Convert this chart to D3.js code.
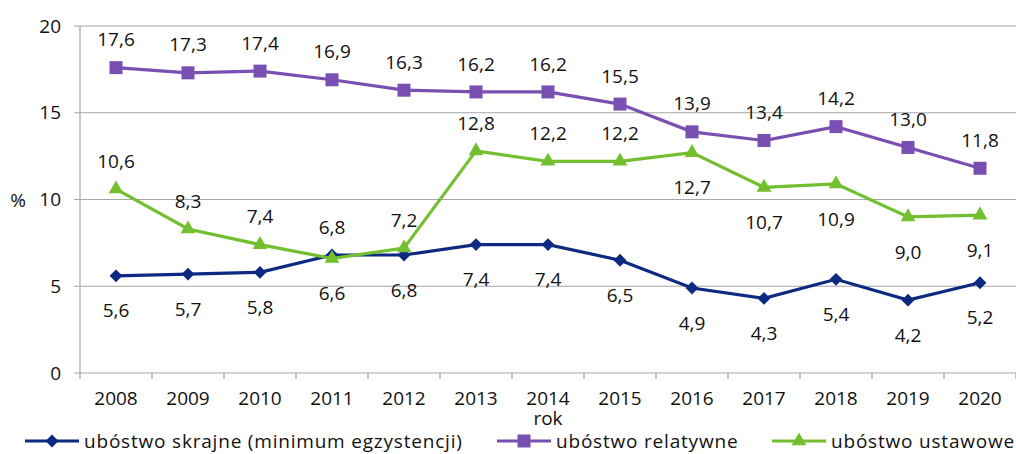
<!DOCTYPE html>
<html>
<head>
<meta charset="utf-8">
<script src="https://d3js.org/d3.v7.min.js"></script>
<style>
  body { margin: 0; background: #fff; }
  svg text { font-family: "Open Sans", "Noto Sans", sans-serif; fill: #111; }
</style>
</head>
<body>
<svg width="1016" height="454"></svg>
<script>
// data
var years = ["2008","2009","2010","2011","2012","2013","2014","2015","2016","2017","2018","2019","2020"];
var skrajne = [5.6, 5.7, 5.8, 6.8, 6.8, 7.4, 7.4, 6.5, 4.9, 4.3, 5.4, 4.2, 5.2];
var relatywne = [17.6, 17.3, 17.4, 16.9, 16.3, 16.2, 16.2, 15.5, 13.9, 13.4, 14.2, 13.0, 11.8];
var ustawowe = [10.6, 8.3, 7.4, 6.6, 7.2, 12.8, 12.2, 12.2, 12.7, 10.7, 10.9, 9.0, 9.1];
// label above (1) or below (-1) each point
var posSkrajne = [-1,-1,-1,1,-1,-1,-1,-1,-1,-1,-1,-1,-1];
var posRelatywne = [1,1,1,1,1,1,1,1,1,1,1,1,1];
var posUstawowe = [1,1,1,-1,1,1,1,1,-1,-1,-1,-1,-1];
var yTicks = [0, 5, 10, 15, 20];

var svg = d3.select("svg");
var plotL = 80, plotR = 1016, plotT = 26, plotB = 373;

var x = d3.scaleBand().domain(years).range([plotL, plotR]);
var y = d3.scaleLinear().domain([0, 20]).range([plotB, plotT]);

// gridlines
svg.append("g").selectAll("line")
  .data(yTicks).enter().append("line")
  .attr("x1", plotL - 6).attr("x2", plotR)
  .attr("y1", function(d) { return y(d); }).attr("y2", function(d) { return y(d); })
  .attr("stroke", "#a6a6a6").attr("stroke-width", 1.2);

svg.append("g").selectAll("text")
  .data(yTicks).enter().append("text")
  .attr("x", 61).attr("y", function(d) { return y(d); })
  .attr("dy", "0.35em").attr("text-anchor", "end")
  .style("font-size", "19px")
  .text(function(d) { return d; });

// y axis line
svg.append("line").attr("x1", plotL).attr("x2", plotL).attr("y1", plotT).attr("y2", plotB)
  .attr("stroke", "#a6a6a6").attr("stroke-width", 1.2);

// x axis
var xAxis = svg.append("g")
  .attr("transform", "translate(0," + plotB + ")")
  .call(d3.axisBottom(x).tickSize(0).tickPadding(19));
xAxis.select(".domain").remove();
xAxis.selectAll("text").style("font-size", "19px").attr("fill", "#111");
svg.append("g").selectAll("line")
  .data(d3.range(years.length + 1)).enter().append("line")
  .attr("x1", function(i) { return plotL + i * x.step(); })
  .attr("x2", function(i) { return plotL + i * x.step(); })
  .attr("y1", plotB).attr("y2", plotB + 6)
  .attr("stroke", "#a6a6a6").attr("stroke-width", 1.2);

svg.append("text").attr("x", 548).attr("y", 425).attr("text-anchor", "middle")
  .style("font-size", "19px").text("rok");
svg.append("text").attr("x", 18).attr("y", 207).attr("text-anchor", "middle")
  .style("font-size", "19px").text("%");

var series = [
  {name: "ubóstwo skrajne (minimum egzystencji)", values: skrajne, pos: posSkrajne, color: "#0d2a80", shape: d3.symbolDiamond2, size: 105},
  {name: "ubóstwo relatywne", values: relatywne, pos: posRelatywne, color: "#7a4fb2", shape: d3.symbolSquare, size: 169},
  {name: "ubóstwo ustawowe", values: ustawowe, pos: posUstawowe, color: "#72bf2f", shape: d3.symbolTriangle, size: 95}
];

var cx = function(i) { return x(years[i]) + x.bandwidth() / 2; };
var line = d3.line().x(function(d, i) { return cx(i); }).y(function(d) { return y(d); });

series.forEach(function(s) {
  var g = svg.append("g");
  g.append("path").datum(s.values)
    .attr("d", line).attr("fill", "none")
    .attr("stroke", s.color).attr("stroke-width", 3.2);
  g.selectAll("path.m").data(s.values).enter().append("path")
    .attr("class", "m")
    .attr("d", d3.symbol().type(s.shape).size(s.size))
    .attr("transform", function(d, i) { return "translate(" + cx(i) + "," + y(d) + ")"; })
    .attr("fill", s.color);
  g.selectAll("text").data(s.values).enter().append("text")
    .attr("x", function(d, i) { return cx(i); })
    .attr("y", function(d, i) { return y(d) + (s.pos[i] > 0 ? -28 : 35); })
    .attr("dy", "0.35em").attr("text-anchor", "middle")
    .style("font-size", "19px")
    .text(function(d) { return d.toFixed(1).replace(".", ","); });
});

// legend
var legendX = [25, 497, 772];
series.forEach(function(s, i) {
  var g = svg.append("g").attr("transform", "translate(" + legendX[i] + ",441)");
  g.append("line").attr("x1", 0).attr("x2", 54).attr("stroke", s.color).attr("stroke-width", 3.2);
  g.append("path").attr("d", d3.symbol().type(s.shape).size(s.size))
    .attr("transform", "translate(27,0)").attr("fill", s.color);
  g.append("text").attr("x", 59).attr("dy", "0.35em")
    .style("font-size", "19px").style("letter-spacing", "0.8px").text(s.name);
});
</script>
</body>
</html>
